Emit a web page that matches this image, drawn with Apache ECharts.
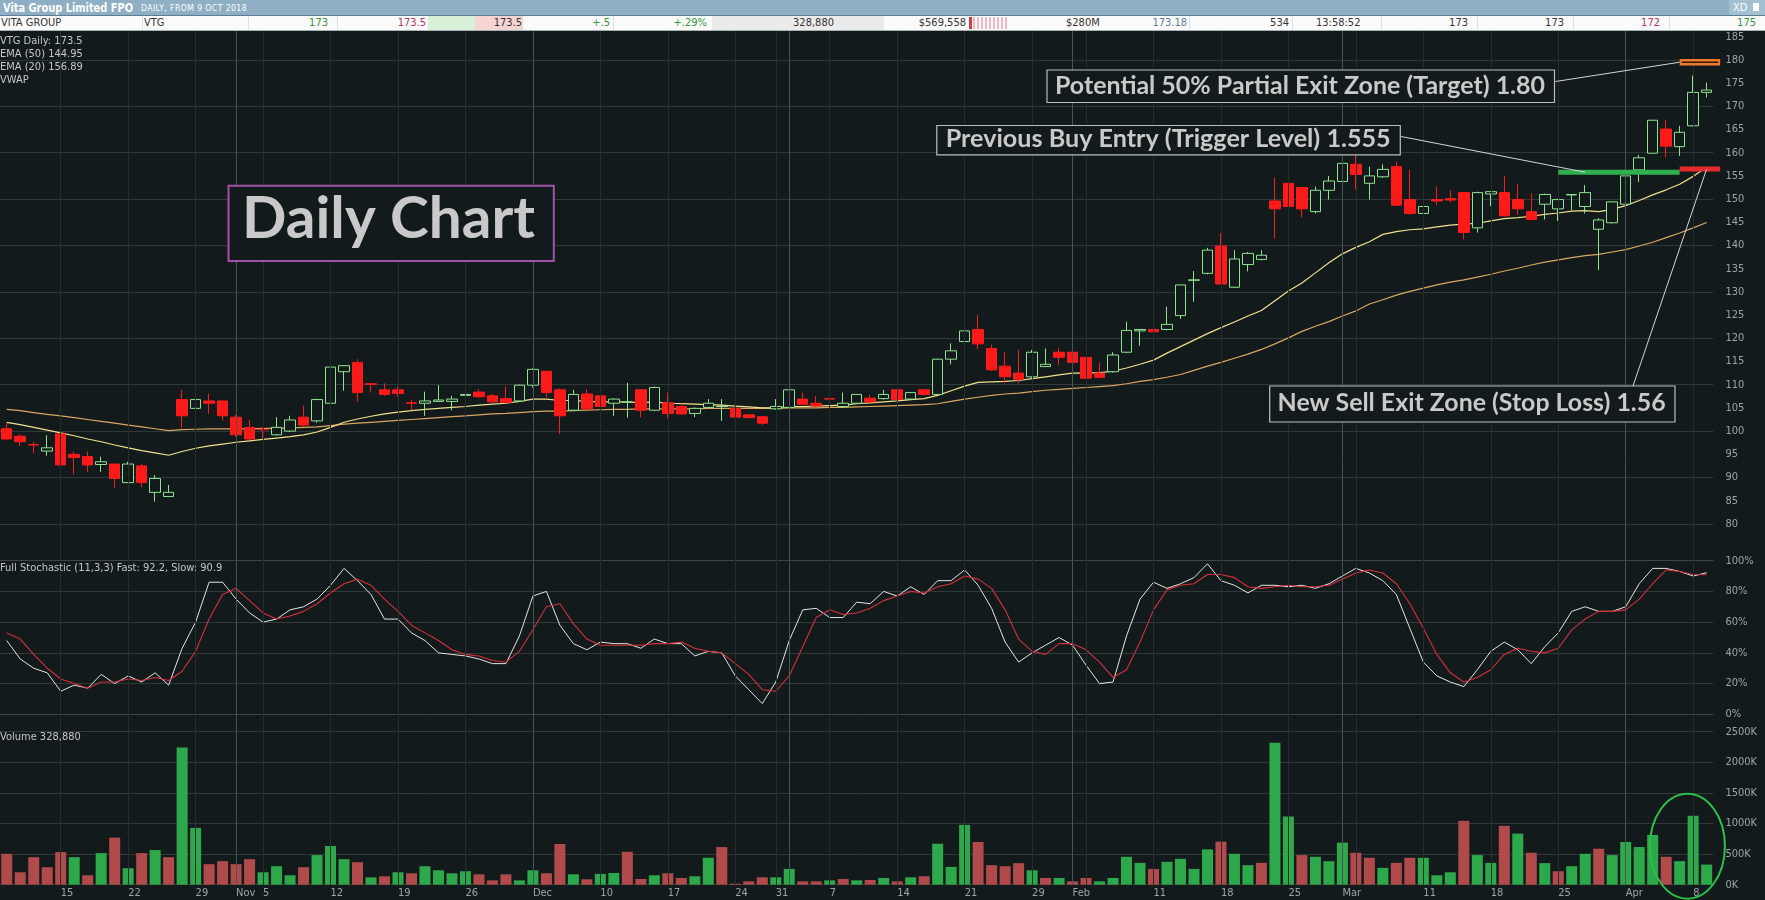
<!DOCTYPE html>
<html>
<head>
<meta charset="utf-8">
<title>Vita Group Limited FPO - Daily Chart</title>
<script src="https://cdn.jsdelivr.net/npm/echarts@6/dist/echarts.min.js"></script>
<style>
  html, body { margin:0; padding:0; width:1765px; height:900px; overflow:hidden; background:#131a1c; }
  #chart { position:absolute; left:0; top:0; width:1765px; height:900px; }
  .nf { font-family:'Liberation Sans Narrow','DejaVu Sans Condensed','Roboto Condensed','Arial Narrow',sans-serif; }
  #titlebar { position:absolute; left:0; top:0; width:1765px; height:15px; background:#8fafc5; border-bottom:1px solid #5e7d92; z-index:5; }
  #quote { position:absolute; left:0; top:16px; width:1765px; height:14px; background:#fbfbfb; border-bottom:1px solid #a7b0b4; z-index:5; }
  .q { position:absolute; top:0; height:14px; line-height:14px; font-size:11px; color:#333; white-space:nowrap; }
  .cell { position:absolute; top:0; height:14px; }
  .dv { position:absolute; top:0; width:1px; height:14px; background:#e0e0e0; }
  .g { color:#2f9a3a; } .rd { color:#b8325e; }
  .fit { display:inline-block; transform-origin:0 50%; white-space:nowrap; }
</style>
</head>
<body>
<div id="chart"></div>

<div id="titlebar" class="nf">
  <span id="ttl" class="fit" data-w="130" style="position:absolute;left:3px;top:0;line-height:15px;font-size:13px;font-weight:bold;color:#fff;">Vita Group Limited FPO</span>
  <span id="sub" class="fit" data-w="106" style="position:absolute;left:141px;top:0;line-height:16px;font-size:8.5px;letter-spacing:0.4px;color:#fff;">DAILY, FROM 9 OCT 2018</span>
  <div style="position:absolute;left:1729px;top:0;width:36px;height:15px;background:#a3bfd2;"></div>
  <span style="position:absolute;left:1733px;top:0;line-height:15px;font-size:11px;color:#fff;">XD</span>
  <div style="position:absolute;left:1753px;top:3px;width:6px;height:8px;background:#fff;"></div>
</div>

<div id="quote" class="nf">
  <div class="cell" style="left:428px;width:47px;background:#d8f0d8;"></div>
  <div class="cell" style="left:475px;width:48px;background:#f5d4d4;"></div>
  <div class="cell" style="left:712px;width:172px;background:#ebebeb;"></div>
  <div class="cell" style="left:969px;top:1px;width:3px;height:12px;background:#c84040;"></div>
  <div class="cell" style="left:973px;top:1px;width:36px;height:12px;background:repeating-linear-gradient(to right,#efb7c1 0 2px,#fbfbfb 2px 4px);"></div>
  <div class="dv" style="left:142px"></div><div class="dv" style="left:248px"></div>
  <div class="dv" style="left:337px"></div><div class="dv" style="left:613px"></div>
  <div class="dv" style="left:1189px"></div><div class="dv" style="left:1292px"></div>
  <div class="dv" style="left:1381px"></div><div class="dv" style="left:1477px"></div>
  <div class="dv" style="left:1573px"></div><div class="dv" style="left:1669px"></div>
  <span class="q" style="left:1px;">VITA GROUP</span>
  <span class="q" style="left:144px;">VTG</span>
  <span class="q g" style="right:1437px;">173</span>
  <span class="q rd" style="right:1339px;">173.5</span>
  <span class="q" style="right:1243px;">173.5</span>
  <span class="q g" style="right:1155px;">+.5</span>
  <span class="q g" style="right:1058px;">+.29%</span>
  <span class="q" style="right:931px;">328,880</span>
  <span class="q" style="right:799px;">$569,558</span>
  <span class="q" style="left:1066px;">$280M</span>
  <span class="q" style="right:578px;color:#5b8191;">173.18</span>
  <span class="q" style="right:476px;">534</span>
  <span class="q" style="left:1316px;">13:58:52</span>
  <span class="q" style="right:297px;">173</span>
  <span class="q" style="right:201px;">173</span>
  <span class="q rd" style="right:105px;">172</span>
  <span class="q g" style="right:9px;">175</span>
</div>

<script>
// ---------------- DATA ----------------
const holidays = ['2018-12-25', '2018-12-26', '2019-01-01', '2019-01-28'];
const firstDay = '2018-10-09';
const lastDay = '2019-04-09';

const open = [
  100.5,98.9,97.1,95.7,99.4,95.0,94.5,92.8,92.9,88.9,
  92.5,86.8,85.9,106.8,104.9,106.5,106.5,103.0,100.8,100.4,
  99.2,100.0,103.0,102.2,106.0,112.8,114.8,110.2,108.9,108.9,
  106.1,106.0,106.4,106.4,107.7,108.4,107.6,107.0,106.5,109.9,
  112.9,108.9,104.5,108.0,107.6,106.0,106.2,108.9,104.5,106.1,
  105.3,103.8,105.1,105.3,104.9,103.5,103.1,104.8,105.1,106.9,
  106.0,107.0,105.3,106.0,107.1,107.0,108.9,106.9,108.9,107.9,
  115.5,119.3,121.9,117.8,114.0,112.5,111.7,113.9,117.0,117.0,
  115.9,112.5,112.8,117.0,121.6,121.9,121.9,124.9,132.5,134.0,
  139.9,131.0,135.9,137.0,149.6,153.4,152.5,147.3,151.9,153.8,
  157.5,153.4,154.8,157.0,149.9,146.9,149.9,150.1,151.4,143.8,
  151.1,151.4,149.9,147.3,148.9,147.9,150.9,148.4,143.5,144.9,
  148.9,156.3,159.9,165.1,161.3,165.8,173.0
];
const high = [
  101.7,99.3,97.7,99.1,99.6,95.6,95.6,94.5,92.9,93.4,
  93.0,90.5,88.4,108.9,107.0,108.1,106.6,103.5,102.4,100.8,
  103.0,103.3,105.5,107.0,113.9,114.1,115.5,110.3,110.3,109.6,
  106.7,108.5,109.9,107.6,111.0,109.0,108.0,109.7,110.0,113.5,
  113.0,109.2,108.9,109.0,107.7,107.1,110.4,109.0,109.6,108.3,
  106.0,105.1,106.9,106.9,105.0,103.6,103.2,106.9,108.9,108.3,
  107.6,107.4,108.3,108.0,107.8,108.9,109.0,108.4,109.1,115.6,
  118.9,123.1,125.0,118.6,117.0,117.5,117.5,117.8,117.8,117.2,
  116.0,114.8,117.0,123.6,122.0,124.3,126.8,131.6,134.5,139.5,
  142.6,139.0,138.6,139.0,154.6,154.5,152.6,152.7,155.0,157.9,
  159.5,157.0,157.5,158.1,156.3,153.0,152.7,151.9,151.5,151.6,
  151.7,155.0,153.2,151.2,151.2,150.1,151.1,153.0,145.9,149.5,
  159.1,159.5,167.1,167.0,165.8,176.6,175.1
];
const low = [
  98.0,96.8,95.3,94.7,92.6,90.7,91.2,91.2,87.8,88.9,
  87.9,84.8,85.9,100.6,101.8,103.7,102.3,98.8,98.0,98.4,
  99.0,99.8,101.0,101.8,105.8,108.7,106.3,108.3,107.6,107.3,
  104.5,103.3,106.3,104.5,107.5,107.2,106.0,106.0,106.3,109.4,
  107.3,99.4,104.3,104.6,103.8,103.3,102.9,103.0,104.3,102.8,
  103.5,103.0,105.0,102.2,103.0,102.9,101.3,104.6,105.0,105.6,
  105.2,106.0,105.2,105.9,105.9,106.8,106.6,106.7,107.7,107.8,
  114.4,118.4,117.7,113.0,110.3,110.3,111.5,113.8,114.3,114.6,
  111.2,111.4,112.6,116.8,118.4,120.9,121.7,124.2,127.9,133.8,
  131.7,130.9,134.4,136.8,141.5,148.2,146.1,146.9,149.9,151.7,
  152.1,149.9,154.6,148.5,146.7,146.7,148.7,149.3,141.3,142.8,
  148.5,146.2,146.6,145.4,145.6,145.3,147.6,146.9,134.7,144.7,
  148.7,153.7,159.8,159.0,159.3,165.6,171.9
];
const close = [
  98.3,97.7,97.0,96.4,92.7,94.3,92.7,93.4,89.8,92.9,
  88.9,89.8,86.8,103.3,106.8,106.0,103.3,99.2,98.3,100.3,
  100.8,102.4,101.3,106.8,113.8,114.1,108.3,110.1,107.9,108.1,
  106.0,106.5,106.7,106.9,107.9,107.4,106.3,106.2,109.9,113.3,
  108.3,103.3,107.9,104.8,105.3,106.9,106.3,104.5,109.4,103.8,
  103.7,104.9,106.0,105.4,103.0,102.9,101.7,105.3,108.9,105.8,
  105.4,106.9,106.0,107.9,106.3,107.9,106.8,108.3,107.9,115.5,
  117.3,121.6,118.8,113.2,111.7,111.2,117.0,114.4,115.9,114.8,
  111.4,111.6,116.4,121.7,121.9,121.4,123.0,131.5,132.6,139.0,
  131.7,137.1,138.3,137.9,147.9,148.4,147.9,151.9,153.9,157.7,
  155.3,155.0,156.4,148.7,146.9,148.4,149.6,149.8,142.8,151.4,
  151.6,146.4,147.9,145.6,151.0,149.9,151.0,151.4,145.5,149.4,
  155.0,158.9,167.0,161.4,164.4,173.0,173.5
];
const ema20 = [
  101.9,101.4,100.8,100.2,99.6,99.0,98.3,97.7,97.0,96.4,
  95.8,95.3,94.8,95.6,96.3,96.8,97.2,97.6,97.9,98.2,
  98.5,98.8,99.2,99.8,100.8,101.9,102.6,103.2,103.7,104.1,
  104.4,104.7,104.9,105.1,105.3,105.6,105.8,106.0,106.4,106.9,
  106.9,106.6,106.6,106.4,106.3,106.3,106.3,106.1,106.3,106.0,
  105.9,105.8,105.7,105.6,105.4,105.2,105.0,105.0,105.3,105.3,
  105.4,105.5,105.6,105.9,106.1,106.3,106.5,106.8,107.0,107.7,
  108.7,109.7,110.5,110.6,110.7,110.9,111.3,111.7,112.1,112.5,
  112.5,112.6,112.9,113.6,114.4,115.3,116.8,118.2,119.6,121.0,
  122.3,123.5,124.8,126.0,128.1,130.2,131.9,134.1,136.3,138.2,
  139.6,140.8,142.4,143.0,143.4,143.6,144.0,144.4,144.6,144.8,
  145.3,145.8,146.0,146.3,146.7,147.0,147.4,147.5,147.3,147.8,
  148.6,149.7,150.9,152.0,153.2,154.9,156.89
];
const ema50 = [
  104.7,104.4,104.0,103.6,103.3,102.9,102.5,102.1,101.7,101.3,
  100.9,100.5,100.1,100.3,100.4,100.5,100.5,100.5,100.5,100.6,
  100.6,100.7,100.8,100.9,101.2,101.5,101.7,101.9,102.1,102.3,
  102.5,102.7,102.9,103.1,103.3,103.5,103.7,103.8,104.0,104.2,
  104.3,104.3,104.4,104.5,104.6,104.7,104.7,104.8,104.8,104.8,
  104.8,104.8,104.9,104.9,104.9,104.9,104.9,104.9,105.0,105.0,
  105.0,105.1,105.1,105.2,105.3,105.4,105.5,105.6,105.7,105.9,
  106.4,106.9,107.3,107.7,108.0,108.2,108.5,108.8,109.0,109.2,
  109.4,109.6,109.8,110.2,110.7,111.1,111.6,112.2,113.1,114.0,
  114.8,115.7,116.6,117.6,118.8,120.1,121.5,122.6,123.6,124.8,
  125.9,127.4,128.3,129.3,130.1,130.8,131.5,132.1,132.6,133.2,
  133.8,134.5,135.1,135.8,136.4,136.9,137.4,137.8,138.1,138.6,
  139.1,139.9,140.7,141.7,142.7,143.8,144.95
];
const stochFast = [
  48,36,30,27,15,19,17,26,20,25,
  21,27,19,43,60,86,86,75,66,60,
  62,68,70,75,84,95,87,78,62,62,
  53,48,40,39,38,36,33,33,51,77,
  80,58,46,42,47,46,46,43,49,46,
  46,38,41,40,25,16,7,21,48,68,
  69,63,63,73,72,80,77,83,78,87,
  87,94,84,69,47,34,40,45,50,45,
  32,20,21,51,75,86,82,85,89,98,
  87,84,79,84,84,83,84,82,85,90,
  95,92,87,78,56,34,25,21,18,29,
  41,47,42,33,44,53,67,70,67,67,
  70,85,95,95,93,90,92.2
];
const stochSlow = [
  53,49,39,30,23,20,17,21,21,23,
  22,24,22,28,41,62,78,82,74,66,
  62,64,67,72,79,85,88,84,75,67,
  58,53,48,42,39,38,35,34,41,55,
  70,72,59,49,45,45,45,45,46,46,
  47,43,41,40,33,26,16,15,25,44,
  63,68,65,66,69,74,77,80,79,83,
  85,90,88,82,68,49,41,39,46,46,
  42,34,24,29,47,68,81,84,85,91,
  91,89,83,82,83,84,83,83,84,88,
  92,94,92,85,72,56,39,27,21,24,
  29,39,43,41,40,43,55,62,67,67,
  68,75,85,94,93,91,90.9
];
// volume in thousands of shares
const volumeK = [
  505,203,450,286,533,450,154,516,769,269,
  516,566,450,2242,929,335,385,335,418,203,
  302,154,286,484,632,418,368,121,137,203,
  187,302,236,187,220,170,71,170,71,236,
  187,665,170,88,176,192,538,93,154,187,
  110,137,440,615,16,55,121,121,258,55,
  55,71,93,71,77,110,55,121,137,670,
  291,978,698,319,302,352,236,110,110,55,
  110,55,110,456,357,258,374,423,258,577,
  703,505,319,357,2319,1115,484,456,385,687,
  522,440,275,357,440,440,154,203,1044,484,
  357,962,835,522,352,220,302,505,588,484,
  698,615,813,456,385,1126,328.88
];
// x-axis tick labels
const tickDates = ['2018-10-15','2018-10-22','2018-10-29','2018-11-01','2018-11-05','2018-11-12','2018-11-19','2018-11-26',
  '2018-12-03','2018-12-10','2018-12-17','2018-12-24','2018-12-31','2019-01-07','2019-01-14','2019-01-21','2019-01-29',
  '2019-02-01','2019-02-11','2019-02-18','2019-02-25','2019-03-01','2019-03-11','2019-03-18','2019-03-25','2019-04-01','2019-04-08'];
const tickTexts = ['15','22','29','Nov','5','12','19','26','Dec','10','17','24','31','7','14','21','29',
  'Feb','11','18','25','Mar','11','18','25','Apr','8'];
// annotated zones: [start index, end index, price level]
const zoneStart = [124, 115, 124];
const zoneEnd = [127, 124, 127];
const zoneLevel = [179.5, 155.8, 156.5];
const zoneNames = ['Potential 50% Partial Exit Zone (Target) 1.80', 'Previous Buy Entry (Trigger Level) 1.555', 'New Sell Exit Zone (Stop Loss) 1.56'];

// ---------------- HEADER TEXT FIT ----------------
document.querySelectorAll('.fit').forEach(el => {
  const w = parseFloat(el.getAttribute('data-w'));
  const m = el.getBoundingClientRect().width;
  if (m > 0) el.style.transform = 'scaleX(' + (w / m) + ')';
});

// ---------------- BUILD ----------------
function buildDates(a, b, skip) {
  const out = [];
  const d = new Date(a + 'T00:00:00Z'), end = new Date(b + 'T00:00:00Z');
  while (d <= end) {
    const wd = d.getUTCDay();
    const s = d.toISOString().slice(0, 10);
    if (wd !== 0 && wd !== 6 && skip.indexOf(s) < 0) out.push(s);
    d.setUTCDate(d.getUTCDate() + 1);
  }
  return out;
}
const dates = buildDates(firstDay, lastDay, holidays);
const N = dates.length;

const FONT = "'Liberation Sans Narrow','DejaVu Sans Condensed','Roboto Condensed','Arial Narrow',sans-serif";
const BOLD_FONT_FAMILY = "Lato, 'Open Sans', 'Noto Sans', sans-serif";
const BG = '#131a1c';
const AXIS_TXT = '#9ea4a6';
const GRID_H = '#30383a';
const GRID_H2 = '#3e4648';
const WEEK_C = '#252d2f';
const MONTH_C = '#4a5355';
const UP_C = '#8fe28f';
const DN_C = '#ff1a1a';
const VOL_UP = '#2da84a';
const VOL_DN = '#b14b4b';

const tickMap = {};
tickDates.forEach((d, i) => { tickMap[d] = tickTexts[i]; });

const wd = s => new Date(s + 'T00:00:00Z').getUTCDay();
const vlineData = [];
for (let i = 1; i < N; i++) {
  const isMonth = dates[i].slice(5, 7) !== dates[i - 1].slice(5, 7);
  const isWeek = wd(dates[i]) < wd(dates[i - 1]);
  if (isMonth || isWeek) {
    vlineData.push({ xAxis: dates[i], lineStyle: { color: isMonth ? MONTH_C : WEEK_C, width: 1, type: 'solid' } });
  }
}

const candleData = dates.map((d, i) => [open[i], close[i], low[i], high[i]]);
const volData = volumeK.map((v, i) => {
  const up = i === 0 ? close[i] >= open[i] : close[i] >= close[i - 1];
  return { value: v * 1000, itemStyle: { color: up ? VOL_UP : VOL_DN } };
});
const zoneData = zoneStart.map((s, i) => [s, zoneLevel[i], zoneEnd[i], i]);
const zoneStyles = [
  { fill: '#f07a2a', h: 6.4, inner: '#2a1a10' },
  { fill: '#2fb04c', h: 5 },
  { fill: '#e42a2a', h: 5 }
];

const GRID_RIGHT = 51.6;
const gridBase = { left: 0, right: GRID_RIGHT, containLabel: false, outerBoundsMode: 'none' };

const chart = echarts.init(document.getElementById('chart'), null, { renderer: 'canvas', width: 1765, height: 900 });

const xAxes = [0, 1, 2, 3].map(g => ({
  type: 'category', gridIndex: g, data: dates, boundaryGap: true,
  axisLine: { show: false }, axisTick: { show: false }, splitLine: { show: false },
  axisLabel: g === 2 ? {
    show: true, interval: (idx, val) => tickMap[val] !== undefined,
    formatter: v => tickMap[v] || '', align: 'left', color: AXIS_TXT, fontSize: 11,
    fontFamily: FONT, margin: 3, hideOverlap: false
  } : { show: false }
}));

const yAxes = [
  { type: 'value', gridIndex: 0, position: 'right', min: 80, max: 185, interval: 5,
    axisLine: { show: false }, axisTick: { show: false }, splitLine: { show: false },
    axisLabel: { color: AXIS_TXT, fontSize: 11, fontFamily: FONT, margin: 12 } },
  { type: 'value', gridIndex: 0, position: 'left', min: 80, max: 185, interval: 10,
    axisLine: { show: false }, axisTick: { show: false }, axisLabel: { show: false },
    splitLine: { show: true, showMaxLine: false, lineStyle: { color: GRID_H, width: 1 } } },
  { type: 'value', gridIndex: 1, position: 'right', min: 0, max: 100, interval: 20,
    axisLine: { show: false }, axisTick: { show: false },
    axisLabel: { color: AXIS_TXT, fontSize: 11, fontFamily: FONT, margin: 12, formatter: '{value}%' },
    splitLine: { show: true, lineStyle: { color: [GRID_H2, GRID_H, GRID_H, GRID_H, GRID_H, GRID_H2], width: 1 } } },
  { type: 'value', gridIndex: 2, position: 'right', min: 0, max: 2500000, interval: 500000,
    axisLine: { show: false }, axisTick: { show: false },
    axisLabel: { color: AXIS_TXT, fontSize: 11, fontFamily: FONT, margin: 12, formatter: v => (v / 1000) + 'K' },
    splitLine: { show: true, lineStyle: { color: GRID_H, width: 1 } } },
  { type: 'value', gridIndex: 3, min: 0, max: 1, show: false, splitLine: { show: false } }
];

const option = {
  animation: false,
  backgroundColor: BG,
  textStyle: { fontFamily: FONT },
  grid: [
    Object.assign({ top: 36.7, height: 487.2 }, gridBase),
    Object.assign({ top: 560.7, height: 153.6 }, gridBase),
    Object.assign({ top: 731.7, height: 153 }, gridBase),
    Object.assign({ top: 30, height: 854.7 }, gridBase)
  ],
  xAxis: xAxes,
  yAxis: yAxes,
  series: [
    { type: 'line', name: 'vgrid', xAxisIndex: 3, yAxisIndex: 4, data: dates.map(() => null), silent: true, z: 0,
      showSymbol: false, lineStyle: { opacity: 0 },
      markLine: { silent: true, symbol: ['none', 'none'], label: { show: false }, animation: false, data: vlineData } },
    { type: 'line', name: 'EMA (50)', xAxisIndex: 0, yAxisIndex: 0, data: ema50, showSymbol: false, symbol: 'none',
      lineStyle: { color: '#d8a85f', width: 1.2 }, z: 2, silent: true },
    { type: 'line', name: 'EMA (20)', xAxisIndex: 0, yAxisIndex: 0, data: ema20, showSymbol: false, symbol: 'none',
      lineStyle: { color: '#f1e08c', width: 1.2 }, z: 2, silent: true },
    { type: 'candlestick', name: 'VTG', xAxisIndex: 0, yAxisIndex: 0, data: candleData, barWidth: 11, z: 3,
      itemStyle: { color: BG, color0: DN_C, borderColor: UP_C, borderColor0: DN_C, borderColorDoji: UP_C, borderWidth: 1 } },
    { type: 'custom', name: 'zones', xAxisIndex: 0, yAxisIndex: 0, data: zoneData, clip: false, z: 6, silent: true,
      renderItem: (params, api) => {
        const st = zoneStyles[api.value(3)];
        const a = api.coord([api.value(0), api.value(1)]);
        const b = api.coord([api.value(2), api.value(1)]);
        const children = [{ type: 'rect', shape: { x: a[0], y: a[1] - st.h / 2, width: b[0] - a[0], height: st.h }, style: { fill: st.fill } }];
        if (st.inner) children.push({ type: 'line', shape: { x1: a[0] + 2, y1: a[1], x2: b[0] - 2, y2: a[1] }, style: { stroke: st.inner, lineWidth: 1.6 } });
        return { type: 'group', children };
      } },
    { type: 'line', name: 'Fast', xAxisIndex: 1, yAxisIndex: 2, data: stochFast, showSymbol: false, symbol: 'none',
      lineStyle: { color: '#e4e4e4', width: 1 }, z: 3, silent: true },
    { type: 'line', name: 'Slow', xAxisIndex: 1, yAxisIndex: 2, data: stochSlow, showSymbol: false, symbol: 'none',
      lineStyle: { color: '#d5303d', width: 1.1 }, z: 3, silent: true },
    { type: 'bar', name: 'Volume', xAxisIndex: 2, yAxisIndex: 3, data: volData, barWidth: 11, z: 3, silent: true }
  ]
};
chart.setOption(option);

// ---------------- ANNOTATIONS ----------------
const P = (g, x, y) => chart.convertToPixel({ gridIndex: g }, [x, y]);
const mctx = document.createElement('canvas').getContext('2d');
function fitScale(text, font, w) { mctx.font = font; const m = mctx.measureText(text).width; return m > 0 ? w / m : 1; }
const smallFont = '11px ' + FONT;
const graphics = [];

function label(text, x, y) {
  graphics.push({ type: 'text', x: x, y: y, z: 50, silent: true,
    style: { text: text, font: smallFont, fill: '#c6c6c6', textAlign: 'left', textVerticalAlign: 'middle', align: 'left', verticalAlign: 'middle' } });
}
label('VTG Daily: ' + close[N - 1], 0, 41.5);
label('EMA (50) ' + ema50[N - 1].toFixed(2), 0, 54.3);
label('EMA (20) ' + ema20[N - 1].toFixed(2), 0, 66.8);
label('VWAP', 0, 80.5);
label('Full Stochastic (11,3,3) Fast: ' + stochFast[N - 1] + ', Slow: ' + stochSlow[N - 1], 0, 568.5);
label('Volume ' + Math.round(volumeK[N - 1] * 1000).toLocaleString('en-US'), 0, 737.5);

function annotBox(text, box, tx, tw, ty, size, stroke, lw) {
  const font = 'bold ' + size + 'px ' + BOLD_FONT_FAMILY;
  graphics.push({ type: 'rect', z: 100, silent: true, shape: { x: box[0], y: box[1], width: box[2], height: box[3] },
    style: { fill: BG, stroke: stroke, lineWidth: lw } });
  graphics.push({ type: 'text', z: 101, silent: true, x: tx, y: ty, scaleX: fitScale(text, font, tw),
    style: { text: text, font: font, fill: '#c9c9c9', textAlign: 'left', textVerticalAlign: 'middle', align: 'left', verticalAlign: 'middle' } });
}

// connectors (drawn under boxes)
const tgt = P(0, zoneStart[0], zoneLevel[0]);
const buy = P(0, 117, zoneLevel[1]);
const stp = P(0, 126, zoneLevel[2]);
[[[1555.5, 81.5], tgt], [[1401, 136.5], buy], [[1633, 386], stp]].forEach(([a, b]) => {
  graphics.push({ type: 'line', z: 99, silent: true, shape: { x1: a[0], y1: a[1], x2: b[0], y2: b[1] },
    style: { stroke: '#d4d4d4', lineWidth: 1 } });
});

annotBox('Daily Chart', [228.5, 185.7, 325.3, 75.3], 242, 293, 219.5, 58, '#a052a6', 2);
annotBox(zoneNames[0], [1047, 70, 507.5, 32.5], 1055, 490, 85.8, 24, '#bdbdbd', 1.2);
annotBox(zoneNames[1], [936.8, 125.5, 463.5, 29.3], 945.7, 445, 138.8, 24, '#bdbdbd', 1.2);
annotBox(zoneNames[2], [1269.7, 386, 405.3, 36], 1277.6, 388, 403, 24, '#bdbdbd', 1.2);

// green ellipse around the latest volume bars
const e1 = P(2, 124, 630000), e2 = P(2, 125, 630000);
graphics.push({ type: 'ellipse', z: 100, silent: true,
  shape: { cx: (e1[0] + e2[0]) / 2 + 1, cy: e1[1], rx: 37.5, ry: 52.5 },
  style: { fill: 'none', stroke: '#2fbf48', lineWidth: 2 } });

chart.setOption({ graphic: graphics });
</script>
</body>
</html>
